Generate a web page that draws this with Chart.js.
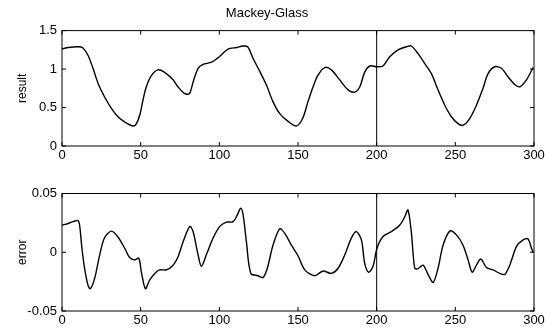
<!DOCTYPE html>
<html>
<head>
<meta charset="utf-8">
<script src="https://cdn.jsdelivr.net/npm/chart.js@4"></script>
<style>
  body { margin: 0; background: #fff; }
  #wrap { position: relative; width: 545px; height: 334px; }
  canvas { position: absolute; left: 0; }
</style>
</head>
<body>
<div id="wrap">
  <canvas id="topChart" width="545" height="167" style="top:0"></canvas>
  <canvas id="errChart" width="545" height="167" style="top:167px"></canvas>
</div>
<script>
// values
const xTicks = [0, 50, 100, 150, 200, 250, 300];
const splitX = 200;

const resultX = [0, 4, 10, 13, 16.5, 19.7, 23, 27, 31.4, 35.6, 40, 45, 47, 49.4, 51.5, 53.6, 57, 61, 65, 70.6, 73.7,
  78, 81, 83.3, 86.5, 89.6, 95, 100, 105.5, 111, 115, 118, 121.4, 125.7, 130, 134, 138.4, 143.7, 149,
  153, 156.4, 159.6, 162.7, 167, 171.2, 176.5, 181.8, 186, 189.3, 192.4, 195.6, 200, 204, 208.3, 213.6, 219, 222, 226.3,
  230.6, 234.8, 239, 243.3, 247.5, 251.7, 255, 259.2, 263.4, 267.6, 270.8, 275, 279.3, 283.5, 287.8, 291, 295.2, 299.4];
const resultY = [1.26, 1.28, 1.29, 1.28, 1.18, 1.01, 0.81, 0.64, 0.49, 0.38, 0.31, 0.26, 0.28, 0.40, 0.60, 0.77, 0.92, 0.99, 0.96, 0.86, 0.77,
  0.68, 0.68, 0.83, 1.01, 1.06, 1.09, 1.16, 1.26, 1.28, 1.30, 1.29, 1.14, 0.97, 0.79, 0.58, 0.42, 0.32, 0.26,
  0.36, 0.58, 0.77, 0.92, 1.02, 0.99, 0.86, 0.73, 0.70, 0.77, 0.96, 1.04, 1.03, 1.04, 1.16, 1.25, 1.29, 1.30, 1.20,
  1.07, 0.94, 0.73, 0.53, 0.38, 0.29, 0.27, 0.36, 0.53, 0.75, 0.94, 1.03, 1.01, 0.90, 0.80, 0.77, 0.86, 1.02];

const errorX = [0, 2.7, 7, 10.2, 11.2, 12.7, 14.4, 16.5, 18, 20.8, 24, 27.1, 31.4, 35.6, 40, 43, 46.2, 48.8, 50.4, 53, 55.8, 59, 62, 66.3, 70.6, 73.7,
  77, 81.2, 83.3, 86.5, 88.6, 91.8, 96, 100.3, 104.5, 108.8, 111.5, 113.6, 115.1, 117.2, 120, 124.6, 127.8, 130.5, 134.1, 138.4, 141.6, 145.8, 150,
  154.3, 160.6, 165.9, 171.2, 175.5, 179.7, 183.9, 187.1, 190.3, 192.4, 194.9, 197.7, 200.2, 204, 209.3, 214.6, 217.8, 219.9, 222, 224.2, 226.3,
  229.5, 232.7, 235.9, 239, 242.2, 246.5, 250.7, 254.9, 258.1, 260.7, 263.4, 266.2, 269.8, 274, 278.3, 281.5, 284.6, 288.9, 293.1, 296.2, 298.4, 299.4];
const errorY = [0.023, 0.024, 0.026, 0.027, 0.023, 0.003, -0.014, -0.028, -0.031, -0.022, -0.002, 0.0125, 0.018, 0.013, 0.003, -0.0045, -0.0065, -0.005, -0.0165, -0.031, -0.0235, -0.018, -0.015, -0.015, -0.011, -0.004,
  0.009, 0.022, 0.0176, -0.0023, -0.012, -0.002, 0.012, 0.022, 0.0256, 0.026, 0.032, 0.0375, 0.032, 0.009, -0.018, -0.020, -0.0215, -0.0136, 0.006, 0.020, 0.016, 0.006, -0.003,
  -0.015, -0.020, -0.016, -0.018, -0.0136, -0.0023, 0.012, 0.0176, 0.0105, -0.0094, -0.017, -0.012, 0.0034, 0.0134, 0.0176, 0.023, 0.030, 0.036, 0.0176, -0.0136, -0.014,
  -0.011, -0.019, -0.0256, -0.0136, 0.006, 0.018, 0.0148, 0.006, -0.0065, -0.017, -0.011, -0.0057, -0.013, -0.015, -0.018, -0.0188, -0.011, 0.005, 0.0105, 0.0113, 0.0034, 0.0];

const resultTicks = [0, 0.5, 1, 1.5];
const errorTicks = [-0.05, 0, 0.05];

const FONT = 'Liberation Sans, Arial, sans-serif';

// frame + matlab style inward ticks + split line
const framePlugin = {
  id: 'frame',
  afterDatasetsDraw(chart) {
    const { ctx, chartArea: a, scales } = chart;
    ctx.save();
    ctx.strokeStyle = '#000';
    ctx.lineWidth = 1;
    ctx.strokeRect(a.left, a.top, a.right - a.left, a.bottom - a.top);
    ctx.beginPath();
    scales.x.ticks.forEach(t => {
      const px = scales.x.getPixelForValue(t.value);
      ctx.moveTo(px, a.bottom); ctx.lineTo(px, a.bottom - 4);
      ctx.moveTo(px, a.top); ctx.lineTo(px, a.top + 4);
    });
    scales.y.ticks.forEach(t => {
      const py = scales.y.getPixelForValue(t.value);
      ctx.moveTo(a.left, py); ctx.lineTo(a.left + 4, py);
      ctx.moveTo(a.right, py); ctx.lineTo(a.right - 4, py);
    });
    ctx.stroke();
    const sx = scales.x.getPixelForValue(splitX);
    ctx.beginPath();
    ctx.moveTo(sx, a.top); ctx.lineTo(sx, a.bottom);
    ctx.stroke();
    ctx.restore();
  }
};

function toPoints(xs, ys) {
  return xs.map((x, i) => ({ x: x, y: ys[i] }));
}

function makeChart(id, xs, ys, yTicks, yLabel, title, padTop, xHeight) {
  const ymin = yTicks[0], ymax = yTicks[yTicks.length - 1];
  return new Chart(document.getElementById(id), {
    type: 'scatter',
    data: {
      datasets: [{
        data: toPoints(xs, ys),
        showLine: true,
        borderColor: '#000',
        borderWidth: 1.4,
        pointRadius: 0,
        tension: 0.3
      }]
    },
    options: {
      responsive: false,
      animation: false,
      layout: { padding: { top: padTop, right: 11, left: 0, bottom: 0 } },
      plugins: {
        legend: { display: false },
        tooltip: { enabled: false },
        title: {
          display: !!title,
          text: title,
          color: '#000',
          font: { family: FONT, size: 13, weight: 'normal' },
          padding: { top: 6, bottom: 9 }
        }
      },
      scales: {
        x: {
          type: 'linear',
          min: 0, max: 300,
          afterBuildTicks: s => { s.ticks = xTicks.map(v => ({ value: v })); },
          afterFit: s => { s.height = xHeight; s.paddingLeft = 0; s.paddingRight = 0; },
          grid: { display: false, drawTicks: false },
          border: { display: false },
          ticks: { color: '#000', font: { family: FONT, size: 13 }, padding: 2, maxRotation: 0 }
        },
        y: {
          type: 'linear',
          min: ymin, max: ymax,
          afterBuildTicks: s => { s.ticks = yTicks.map(v => ({ value: v })); },
          afterFit: s => { s.width = 62; s.paddingTop = 0; s.paddingBottom = 0; },
          grid: { display: false, drawTicks: false },
          border: { display: false },
          title: {
            display: true,
            text: yLabel,
            color: '#000',
            font: { family: FONT, size: 12 },
            padding: { top: 15, bottom: 0 }
          },
          ticks: {
            color: '#000',
            font: { family: FONT, size: 13 },
            padding: 5,
            callback: v => String(Number(v.toFixed(2)))
          }
        }
      }
    },
    plugins: [framePlugin]
  });
}

makeChart('topChart', resultX, resultY, resultTicks, 'result', 'Mackey-Glass', 0, 21);
makeChart('errChart', errorX, errorY, errorTicks, 'error', '', 26.5, 23);
</script>
</body>
</html>
